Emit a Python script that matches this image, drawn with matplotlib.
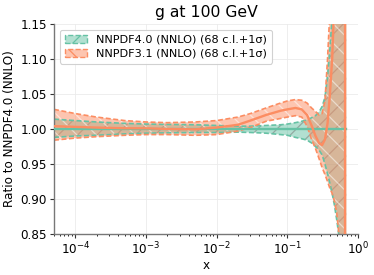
import matplotlib
matplotlib.use("Agg")
import matplotlib.pyplot as plt
from matplotlib.patches import Patch

x = [5e-5, 1e-4, 2e-4, 5e-4, 1e-3, 2e-3, 5e-3, 1e-2, 2e-2, 3e-2, 5e-2, 8e-2,
     0.1, 0.13, 0.16, 0.19, 0.22, 0.25, 0.28, 0.31, 0.34, 0.37, 0.40, 0.43,
     0.46, 0.50, 0.54, 0.58, 0.62, 0.65, 0.66, 0.68]

nn40_central = [1.0] * 32
nn40_upper = [1.014, 1.012, 1.010, 1.008, 1.007, 1.0065, 1.006, 1.005, 1.004, 1.004, 1.005, 1.006,
              1.007, 1.009, 1.011, 1.013, 1.016, 1.019, 1.024, 1.032, 1.045, 1.075, 1.115, 1.16,
              1.25, 1.4, 1.6, 2.0, 3.0, 5.0, 5.0, 5.0]
nn40_lower = [0.988, 0.990, 0.991, 0.993, 0.994, 0.9945, 0.995, 0.995, 0.9955, 0.995, 0.994, 0.992,
              0.991, 0.988, 0.986, 0.984, 0.980, 0.975, 0.970, 0.963, 0.950, 0.936, 0.922, 0.908,
              0.893, 0.870, 0.845, 0.78, 0.6, -3.0, -3.0, -3.0]

nn31_central = [1.004, 1.003, 1.002, 1.001, 1.001, 1.000, 0.9995, 1.002, 1.006, 1.012, 1.020, 1.026,
                1.028, 1.030, 1.028, 1.020, 1.005, 0.990, 0.980, 0.977, 0.985, 1.008, 1.05, 1.10,
                1.18, 1.4, 1.8, 2.5, 4.0, 8.0, -8.0, -8.0]
nn31_upper = [1.028, 1.022, 1.017, 1.012, 1.010, 1.009, 1.010, 1.012, 1.017, 1.022, 1.030, 1.037,
              1.040, 1.042, 1.041, 1.037, 1.030, 1.025, 1.020, 1.022, 1.040, 1.10, 1.17, 1.4,
              1.6, 2.0, 3.0, 3.0, 3.0, 5.0, 5.0, 5.0]
nn31_lower = [0.984, 0.987, 0.989, 0.991, 0.992, 0.992, 0.991, 0.992, 0.997, 1.002, 1.011, 1.015,
              1.017, 1.019, 1.017, 1.004, 0.985, 0.972, 0.958, 0.945, 0.935, 0.925, 0.915, 0.908,
              0.898, 0.880, 0.845, 0.75, 0.5, -3.0, -3.0, -3.0]

labels = ["NNPDF4.0 (NNLO) (68 c.l.+1σ)", "NNPDF3.1 (NNLO) (68 c.l.+1σ)"]
colors = ["#66c2a5", "#fc8d62"]
hatches = ["/", "\\"]
title = "g at 100 GeV"

DPI = 58.44
S = 100.0 / DPI  # convert sizes tuned at 100 dpi
plt.rcParams["hatch.linewidth"] = 0.9 * S

fig = plt.figure(figsize=(374 / DPI, 275 / DPI), dpi=DPI)
ax = fig.add_axes([0.1444, 0.149, 0.813, 0.764])

series = [(nn40_central, nn40_upper, nn40_lower), (nn31_central, nn31_upper, nn31_lower)]
handles = []
for (c, up, lo), col, h, lab in zip(series, colors, hatches, labels):
    ax.fill_between(x, lo, up, facecolor=col, alpha=0.5, hatch=h,
                    edgecolor=(0.45, 0.45, 0.45, 0.6) if h == "/" else (1, 1, 1, 0.8),
                    linewidth=0, zorder=1)
    ax.plot(x, c, color=col, lw=1.7 * S, zorder=3)
    ax.plot(x, up, color=col, lw=1.2 * S, ls=(0, (3, 1.5)), zorder=2)
    ax.plot(x, lo, color=col, lw=1.2 * S, ls=(0, (3, 1.5)), zorder=2)
    handles.append(Patch(facecolor=matplotlib.colors.to_rgba(col, 0.5),
                         edgecolor=col, hatch=h, linestyle="--", linewidth=1.0 * S, label=lab))

ax.set_xscale("log")
ax.set_xlim(5e-5, 1.0)
ax.set_ylim(0.85, 1.15)
ax.set_yticks([0.85, 0.90, 0.95, 1.00, 1.05, 1.10, 1.15])
ax.grid(True, which="major", color="#ebebeb", lw=0.6 * S)
ax.set_axisbelow(True)
for s in ["top", "right"]:
    ax.spines[s].set_visible(False)
for s in ["left", "bottom"]:
    ax.spines[s].set_color("#777777")
    ax.spines[s].set_linewidth(1.0 * S)
ax.tick_params(labelsize=8.7 * S, length=3 * S, width=0.8 * S, color="#333333", pad=2 * S)
ax.tick_params(which="minor", length=1.5 * S, width=0.6 * S)
ax.set_xlabel("x", fontsize=8.7 * S, labelpad=1 * S)
ax.set_ylabel("Ratio to NNPDF4.0 (NNLO)", fontsize=8.7 * S, labelpad=3 * S)
ax.set_title(title, fontsize=11.3 * S, pad=5 * S)
leg = ax.legend(handles=handles, loc="upper left", fontsize=8.1 * S, handlelength=2.0,
                borderpad=0.45, labelspacing=0.35, framealpha=0.9)
leg.get_frame().set_edgecolor("#cccccc")
leg.get_frame().set_linewidth(0.8 * S)

fig.savefig("out.png", dpi=DPI)
